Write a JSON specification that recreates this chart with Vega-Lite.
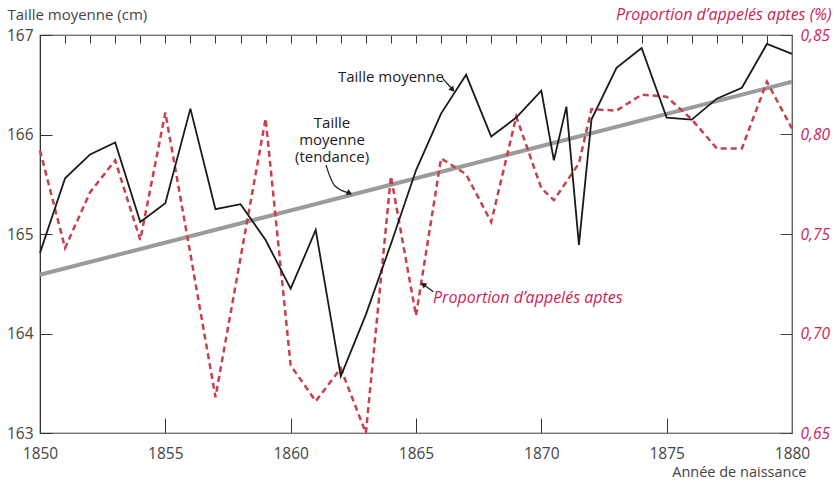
{
  "$schema": "https://vega.github.io/schema/vega-lite/v6.json",
  "width": 752,
  "height": 398,
  "autosize": {"type": "none"},
  "padding": {"left": 40, "top": 35, "right": 44, "bottom": 51},
  "background": "white",
  "config": {
    "view": {"stroke": "#222", "strokeWidth": 1.2},
    "font": "Open Sans",
    "axis": {"grid": false, "domainColor": "#333", "tickColor": "#333", "labelColor": "#444", "labelFont": "Open Sans", "titleFont": "Open Sans", "labelFontSize": 15.5, "titleFontSize": 14.5, "titleFontWeight": "normal", "titleColor": "#444"}
  },
  "datasets": {
    "height": [
      {"year": 1850, "cm": 164.81}, {"year": 1851, "cm": 165.56}, {"year": 1852, "cm": 165.80}, {"year": 1853, "cm": 165.92},
      {"year": 1854, "cm": 165.12}, {"year": 1855, "cm": 165.31}, {"year": 1856, "cm": 166.26}, {"year": 1857, "cm": 165.25},
      {"year": 1858, "cm": 165.30}, {"year": 1859, "cm": 164.94}, {"year": 1860, "cm": 164.45}, {"year": 1861, "cm": 165.04},
      {"year": 1862, "cm": 163.57}, {"year": 1863, "cm": 164.19}, {"year": 1864, "cm": 164.90}, {"year": 1865, "cm": 165.64},
      {"year": 1866, "cm": 166.21}, {"year": 1867, "cm": 166.60}, {"year": 1868, "cm": 165.98}, {"year": 1869, "cm": 166.17},
      {"year": 1870, "cm": 166.44}, {"year": 1870.5, "cm": 165.74}, {"year": 1871, "cm": 166.28}, {"year": 1871.5, "cm": 164.89},
      {"year": 1872, "cm": 166.15}, {"year": 1873, "cm": 166.67}, {"year": 1874, "cm": 166.87}, {"year": 1875, "cm": 166.17},
      {"year": 1876, "cm": 166.15}, {"year": 1877, "cm": 166.36}, {"year": 1878, "cm": 166.47}, {"year": 1879, "cm": 166.91},
      {"year": 1880, "cm": 166.81}
    ],
    "aptes": [
      {"year": 1850, "p": 0.792}, {"year": 1851, "p": 0.743}, {"year": 1852, "p": 0.771}, {"year": 1853, "p": 0.787},
      {"year": 1854, "p": 0.747}, {"year": 1855, "p": 0.811}, {"year": 1856, "p": 0.740}, {"year": 1857, "p": 0.668},
      {"year": 1858, "p": 0.738}, {"year": 1859, "p": 0.808}, {"year": 1860, "p": 0.684}, {"year": 1861, "p": 0.666},
      {"year": 1862, "p": 0.6825}, {"year": 1863, "p": 0.650}, {"year": 1864, "p": 0.779}, {"year": 1865, "p": 0.709},
      {"year": 1866, "p": 0.788}, {"year": 1867, "p": 0.780}, {"year": 1868, "p": 0.756}, {"year": 1869, "p": 0.809},
      {"year": 1870, "p": 0.773}, {"year": 1870.5, "p": 0.767}, {"year": 1871.5, "p": 0.7855}, {"year": 1872, "p": 0.8127},
      {"year": 1873, "p": 0.812}, {"year": 1874, "p": 0.820}, {"year": 1875, "p": 0.819}, {"year": 1876, "p": 0.8076},
      {"year": 1877, "p": 0.793}, {"year": 1878, "p": 0.793}, {"year": 1879, "p": 0.8265}, {"year": 1880, "p": 0.803}
    ],
    "trend": [{"year": 1850, "cm": 164.59}, {"year": 1880, "cm": 166.53}],
    "labels": [
      {"x": 1864.0, "y": 166.58, "text": ["Taille moyenne"], "kind": "black"},
      {"x": 1861.65, "y": 166.119, "text": ["Taille", "moyenne", "(tendance)"], "kind": "black"},
      {"x": 1865.68, "y": 164.357, "text": ["Proportion d’appelés aptes"], "kind": "red"}
    ],
    "arrows": [
      {"x": 1866.06, "y": 166.565, "x2": 1866.48, "y2": 166.447},
      {"x": 1865.69, "y": 164.42, "x2": 1865.27, "y2": 164.497}
    ],
    "curve": [
      {"x": 1861.41, "y": 165.693}, {"x": 1861.57, "y": 165.576}, {"x": 1861.77, "y": 165.482}, {"x": 1862.37, "y": 165.409}
    ],
    "heads": [
      {"x": 1866.46, "y": 166.45, "angle": 138},
      {"x": 1862.35, "y": 165.411, "angle": 114},
      {"x": 1865.29, "y": 164.494, "angle": 306}
    ]
  },
  "layer": [
    {
      "data": {"name": "trend"},
      "mark": {"type": "line", "color": "#9b9b9b", "strokeWidth": 4},
      "encoding": {
        "x": {"field": "year", "type": "quantitative", "scale": {"domain": [1850, 1880], "nice": false, "zero": false},
          "axis": {"values": [1850, 1855, 1860, 1865, 1870, 1875, 1880], "tickSize": -15, "labelPadding": 28, "labelFlush": false, "format": "d", "domainColor": "#777", "title": "Année de naissance", "titleAlign": "right", "titleAnchor": null, "titleX": 766, "titleY": 39, "titleBaseline": "middle"}},
        "y": {"field": "cm", "type": "quantitative", "scale": {"domain": [163, 167], "nice": false, "zero": false}, "axis": null}
      }
    },
    {
      "data": {"name": "aptes"},
      "mark": {"type": "line", "color": "#c8404f", "strokeWidth": 2.5, "strokeDash": [6, 4]},
      "encoding": {
        "x": {"field": "year", "type": "quantitative", "axis": null},
        "y": {"field": "p", "type": "quantitative", "scale": {"domain": [0.65, 0.85], "nice": false, "zero": false},
          "axis": {"orient": "right", "values": [0.65, 0.7, 0.75, 0.8, 0.85], "labelExpr": "replace(format(datum.value, '.2f'), '.', ',')", "labelColor": "#cc1f55", "labelFontStyle": "italic", "tickSize": -12, "labelPadding": 20, "domainColor": "#666", "tickColor": "#444",
            "title": "Proportion d’appelés aptes (%)", "titleColor": "#cc1f55", "titleFontStyle": "italic", "titleFontSize": 16, "titleAngle": 0, "titleAlign": "right", "titleAnchor": null, "titleX": 39, "titleY": -21, "titleBaseline": "middle"}}
      }
    },
    {
      "data": {"name": "height"},
      "mark": {"type": "line", "color": "#1a1a1a", "strokeWidth": 1.8},
      "encoding": {
        "x": {"field": "year", "type": "quantitative", "axis": {"values": [1850, 1851, 1852, 1853, 1854, 1855, 1856, 1857, 1858, 1859, 1860, 1861, 1862, 1863, 1864, 1865, 1866, 1867, 1868, 1869, 1870, 1871, 1872, 1873, 1874, 1875, 1876, 1877, 1878, 1879, 1880], "tickSize": -8, "labels": false, "domainColor": "#777", "title": null}},
        "y": {"field": "cm", "type": "quantitative", "scale": {"domain": [163, 167], "nice": false, "zero": false},
          "axis": {"values": [163, 164, 165, 166, 167], "tickSize": -12, "labelPadding": 19, "title": "Taille moyenne (cm)", "titleFontSize": 15, "titleAngle": 0, "titleAlign": "left", "titleAnchor": null, "titleX": -33, "titleY": -21, "titleBaseline": "middle"}}
      }
    },
    {
      "data": {"name": "labels"},
      "transform": [{"filter": "datum.kind === 'black'"}],
      "mark": {"type": "text", "align": "center", "baseline": "middle", "font": "Open Sans", "fontSize": 15, "color": "#1a1a1a", "lineHeight": 17},
      "encoding": {
        "x": {"field": "x", "type": "quantitative", "axis": null},
        "y": {"field": "y", "type": "quantitative", "scale": {"domain": [163, 167], "nice": false, "zero": false}, "axis": null},
        "text": {"field": "text"}
      }
    },
    {
      "data": {"name": "labels"},
      "transform": [{"filter": "datum.kind === 'red'"}],
      "mark": {"type": "text", "align": "left", "baseline": "middle", "font": "Open Sans", "fontSize": 16, "fontStyle": "italic", "color": "#cc1f55"},
      "encoding": {
        "x": {"field": "x", "type": "quantitative", "axis": null},
        "y": {"field": "y", "type": "quantitative", "scale": {"domain": [163, 167], "nice": false, "zero": false}, "axis": null},
        "text": {"field": "text"}
      }
    },
    {
      "data": {"name": "arrows"},
      "mark": {"type": "rule", "color": "#1a1a1a", "strokeWidth": 1.2},
      "encoding": {
        "x": {"field": "x", "type": "quantitative", "axis": null},
        "y": {"field": "y", "type": "quantitative", "scale": {"domain": [163, 167], "nice": false, "zero": false}, "axis": null},
        "x2": {"field": "x2"},
        "y2": {"field": "y2"}
      }
    },
    {
      "data": {"name": "curve"},
      "mark": {"type": "line", "color": "#1a1a1a", "strokeWidth": 1.2, "interpolate": "monotone"},
      "encoding": {
        "x": {"field": "x", "type": "quantitative", "axis": null},
        "y": {"field": "y", "type": "quantitative", "scale": {"domain": [163, 167], "nice": false, "zero": false}, "axis": null}
      }
    },
    {
      "data": {"name": "heads"},
      "mark": {"type": "point", "shape": "triangle-up", "filled": true, "color": "#1a1a1a", "size": 40, "opacity": 1},
      "encoding": {
        "x": {"field": "x", "type": "quantitative", "axis": null},
        "y": {"field": "y", "type": "quantitative", "scale": {"domain": [163, 167], "nice": false, "zero": false}, "axis": null},
        "angle": {"field": "angle", "type": "quantitative", "scale": null}
      }
    }
  ],
  "resolve": {"scale": {"y": "independent"}, "axis": {"x": "independent", "y": "independent"}}
}
